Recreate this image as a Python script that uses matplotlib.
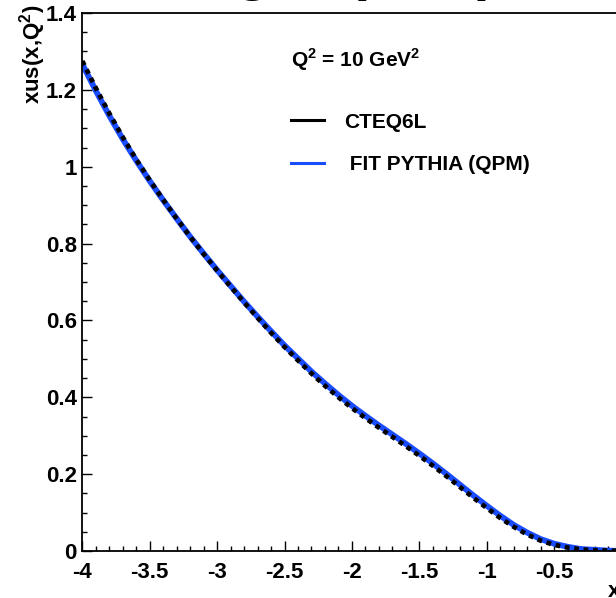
import matplotlib
matplotlib.use("Agg")
import matplotlib.pyplot as plt
from matplotlib.lines import Line2D
from matplotlib.ticker import MultipleLocator, FuncFormatter

plt.rcParams['font.family'] = ['Liberation Sans', 'DejaVu Sans']
plt.rcParams['font.weight'] = 'bold'
plt.rcParams['mathtext.fontset'] = 'custom'
plt.rcParams['mathtext.rm'] = 'Liberation Sans:bold'
plt.rcParams['mathtext.bf'] = 'Liberation Sans:bold'

# log10(x) grid and the two xus(x,Q^2) curves
logx = [-4.0, -3.9, -3.8, -3.7, -3.6, -3.5, -3.4, -3.3, -3.2, -3.1,
        -3.0, -2.9, -2.8, -2.7, -2.6, -2.5, -2.4, -2.3, -2.2, -2.1,
        -2.0, -1.9, -1.8, -1.7, -1.6, -1.5, -1.4, -1.3, -1.2, -1.1,
        -1.0, -0.9, -0.8, -0.7, -0.6, -0.5, -0.4, -0.3, -0.2, -0.1, 0.0]

cteq6l = [1.275, 1.205, 1.139, 1.077, 1.019, 0.965, 0.914, 0.865, 0.818, 0.773,
          0.730, 0.688, 0.647, 0.607, 0.568, 0.531, 0.496, 0.462, 0.430, 0.400,
          0.372, 0.346, 0.321, 0.297, 0.273, 0.248, 0.222, 0.195, 0.167, 0.139,
          0.112, 0.086, 0.063, 0.043, 0.027, 0.016, 0.009, 0.004, 0.002, 0.001, 0.000]

fit_pythia = [1.267, 1.198, 1.133, 1.072, 1.016, 0.963, 0.913, 0.865, 0.818, 0.774,
              0.731, 0.690, 0.649, 0.610, 0.572, 0.535, 0.501, 0.467, 0.436, 0.406,
              0.378, 0.352, 0.327, 0.303, 0.279, 0.254, 0.228, 0.201, 0.173, 0.145,
              0.118, 0.092, 0.068, 0.048, 0.031, 0.019, 0.011, 0.005, 0.003, 0.001, 0.000]

xticks = [-4, -3.5, -3, -2.5, -2, -1.5, -1, -0.5]
yticks = [0, 0.2, 0.4, 0.6, 0.8, 1.0, 1.2, 1.4]

labels = ['CTEQ6L', ' FIT PYTHIA (QPM)']
blue = '#1a4cff'

fig = plt.figure(figsize=(6.16, 5.98), dpi=100)
ax = fig.add_axes([82.3/616, 47/598, 539.2/616, 538/598])

ax.plot(logx, fit_pythia, color=blue, lw=4.2, solid_capstyle='butt')
ax.plot(logx, cteq6l, color='black', lw=3.4, dashes=(1, 1))

ax.set_xlim(-4, 0)
ax.set_ylim(0, 1.4)

ax.set_xticks(xticks)
ax.set_yticks(yticks)
ax.xaxis.set_minor_locator(MultipleLocator(0.1))
ax.yaxis.set_minor_locator(MultipleLocator(0.05))
ax.yaxis.set_major_formatter(FuncFormatter(lambda v, p: '%g' % round(v, 2)))
ax.xaxis.set_major_formatter(FuncFormatter(lambda v, p: '%g' % v))

ax.tick_params(which='both', direction='in', top=False, right=False,
               labelsize=16, width=1.0)
ax.tick_params(which='major', length=7)
ax.tick_params(which='minor', length=3.5)
ax.tick_params(axis='x', pad=8)
ax.tick_params(axis='y', pad=4)
for lab in ax.get_xticklabels() + ax.get_yticklabels():
    lab.set_fontweight('bold')

ax.spines['right'].set_visible(False)
for s in ['left', 'bottom', 'top']:
    ax.spines[s].set_linewidth(1.3)

fig.text(33/616, 1 - 5/598, 'xus(x,Q$^{2}$)', rotation=90, ha='center', va='top',
         fontsize=16, fontweight='bold')
fig.text(620/616, 1/598, 'x', ha='right', va='baseline', fontsize=16, fontweight='bold')

# title of the canvas, mostly cut off at the top edge
fig.text(87/616, 1 + 11/598, 'Strange up in proton', ha='left', va='baseline',
         fontsize=41.8, fontweight='bold')

ax.text(0.3865, 0.9, 'Q$^{2}$ = 10 GeV$^{2}$', transform=ax.transAxes,
        ha='left', va='baseline', fontsize=15, fontweight='bold')

handles = [Line2D([], [], color='black', lw=2.2),
           Line2D([], [], color=blue, lw=2.2)]
ax.legend(handles, labels, loc='upper left', bbox_to_anchor=(0.3865, 0.8146),
          frameon=False, borderpad=0, borderaxespad=0, handlelength=1.6,
          handletextpad=0.95, labelspacing=1.14,
          prop={'weight': 'bold', 'size': 15})

fig.savefig('out.png', dpi=100)
